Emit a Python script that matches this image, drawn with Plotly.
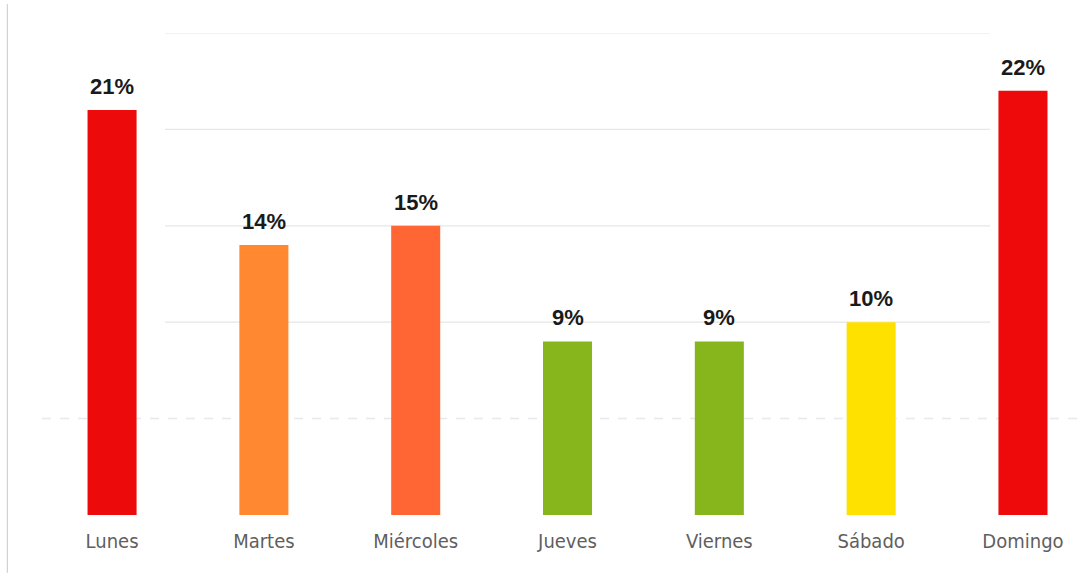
import plotly.graph_objects as go

dias = ["Lunes", "Martes", "Miércoles", "Jueves", "Viernes", "Sábado", "Domingo"]
porcentajes = [21, 14, 15, 9, 9, 10, 22]
colores = ["#EC0A0B", "#FF8830", "#FF6633", "#86B51C", "#86B51C", "#FFE100", "#EE0A0A"]
etiquetas = [f"{v}%" for v in porcentajes]

fig = go.Figure()
fig.add_trace(go.Bar(
    x=dias, y=porcentajes,
    marker=dict(color=colores, line=dict(width=0)),
    width=0.323,
    hoverinfo="skip",
))

for d, v, t in zip(dias, porcentajes, etiquetas):
    fig.add_annotation(x=d, y=v, text=t, showarrow=False, yanchor="bottom", yshift=9,
                       font=dict(family="Liberation Sans, Arial", size=22, color="#1a1a1a", weight="bold"))

# gridlines
for yv in [10, 15, 20, 25]:
    fig.add_shape(type="line", xref="paper", yref="y", x0=0.1467, x1=0.9127, y0=yv, y1=yv,
                  line=dict(color="#e6e6e6", width=1.2), layer="below")
fig.add_shape(type="line", xref="paper", yref="y", x0=0.0325, x1=0.996, y0=5, y1=5,
              line=dict(color="#e8e8ee", width=1.5, dash="dash"), layer="below")
# left vertical rule
fig.add_shape(type="line", xref="paper", yref="paper", x0=0.0003, x1=0.0003, y0=-0.12, y1=1.06,
              line=dict(color="#c8c8c8", width=1))

fig.update_layout(
    width=1084, height=574,
    margin=dict(l=7, r=0, t=33, b=59),
    paper_bgcolor="white", plot_bgcolor="white",
    showlegend=False,
    xaxis=dict(range=[-0.692, 6.402], showgrid=False, zeroline=False, showline=False,
               ticks="", ticklabelstandoff=12,
               tickfont=dict(family="DejaVu Sans Condensed, Liberation Sans, Arial", size=20, color="#5f5f5f")),
    yaxis=dict(range=[0, 25], showgrid=False, zeroline=False, showline=False, showticklabels=False),
)

fig.write_html("out.html", config={"displayModeBar": False},
               post_script="document.body.style.margin='0';document.body.style.padding='0';")
